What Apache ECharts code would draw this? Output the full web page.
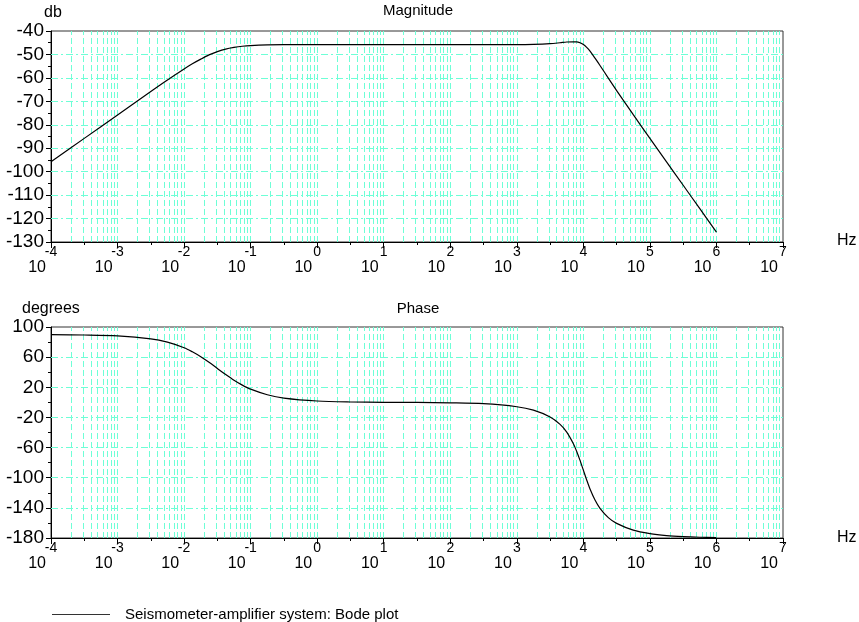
<!DOCTYPE html>
<html>
<head>
<meta charset="utf-8">
<script src="https://cdn.jsdelivr.net/npm/echarts@6/dist/echarts.min.js"></script>
<style>
html,body{margin:0;padding:0;background:#fff;}
#chart{width:859px;height:622px;}
</style>
</head>
<body>
<div id="chart"></div>
<script>
var freqHz = [1e-4, 3.16e-4, 1e-3, 3.16e-3, 5.62e-3, 1e-2, 1.33e-2, 1.78e-2, 2.37e-2, 3.16e-2,
    4.22e-2, 5.62e-2, 7.5e-2, 0.1, 0.178, 0.316, 1, 3.16, 10, 31.6,
    100, 316, 1000, 1778, 3162, 4467, 5623, 7079, 7943, 8913,
    1e4, 11220, 12589, 14962, 17783, 23714, 31623, 56234, 1e5, 177828,
    316228, 562341, 1e6];
var magnitudeDb = [-95.8, -85.8, -75.8, -65.8, -60.9, -56.2, -54.0, -52.0, -50.2, -48.8,
    -47.7, -47.0, -46.5, -46.2, -45.9, -45.8, -45.8, -45.8, -45.8, -45.8,
    -45.8, -45.8, -45.8, -45.7, -45.4, -45.0, -44.7, -44.6, -44.6, -45.0,
    -45.8, -47.0, -48.6, -51.6, -54.7, -60.1, -65.4, -75.7, -85.8, -95.8,
    -105.8, -115.8, -125.8];
var phaseDeg = [89.8, 89.4, 88.2, 84.3, 79.9, 72.5, 67.1, 60.6, 53.1, 45.0,
    36.9, 29.4, 22.9, 17.5, 10.1, 5.7, 1.8, 0.5, 0.1, -0.1,
    -0.6, -1.8, -5.8, -10.4, -19.4, -29.2, -39.4, -54.8, -65.1, -77.0,
    -90.0, -103.0, -114.9, -129.6, -140.6, -152.9, -160.6, -169.6, -174.2, -176.8,
    -178.2, -179.0, -179.4];

// tick labels
var decadeExp = [-4, -3, -2, -1, 0, 1, 2, 3, 4, 5, 6, 7];
var magTicks = [-130, -120, -110, -100, -90, -80, -70, -60, -50, -40];
var phaseTicks = [-180, -140, -100, -60, -20, 20, 60, 100];

var seriesName = 'Seismometer-amplifier system: Bode plot';
var gridColor = '#6effd6';
var font = 'Liberation Sans, Arial, sans-serif';

// x axis is drawn in decades (exponent of 10)
function toDecades(vals) {
    return freqHz.map(function (f, i) { return [Math.log10(f), vals[i]]; });
}

// cyan grid: every 1..9 x 10^n vertically, every labelled tick horizontally
function gridLines(yTicks) {
    var out = [];
    for (var n = decadeExp[0]; n < decadeExp[decadeExp.length - 1]; n++) {
        for (var k = 1; k <= 9; k++) {
            if (n === decadeExp[0] && k === 1) continue;
            out.push({xAxis: n + Math.log10(k), lineStyle: {type: [6, 3]}});
        }
    }
    for (var j = 1; j < yTicks.length - 1; j++) {
        out.push({yAxis: yTicks[j], lineStyle: {type: [7, 3, 2, 3]}});
    }
    return out;
}

function expAxis(g) {
    return {
        type: 'value', gridIndex: g, position: 'bottom',
        min: decadeExp[0], max: decadeExp[decadeExp.length - 1], interval: 1,
        axisLine: {show: true, onZero: false, lineStyle: {color: '#000', width: 1}},
        axisTick: {show: true, length: 6, lineStyle: {color: '#000'}},
        minorTick: {show: true, splitNumber: 2, length: 3, lineStyle: {color: '#000'}},
        splitLine: {show: false},
        axisLabel: {margin: 3, fontSize: 14, color: '#000', fontFamily: font,
            formatter: function (v) { return String(v); }}
    };
}
function baseAxis(g) {
    return {
        type: 'value', gridIndex: g, position: 'bottom',
        min: decadeExp[0], max: decadeExp[decadeExp.length - 1], interval: 1,
        axisLine: {show: false, onZero: false}, axisTick: {show: false}, splitLine: {show: false},
        axisLabel: {margin: 18, fontSize: 16, color: '#000', fontFamily: font, align: 'right',
            padding: [0, 5, 0, 0], formatter: function () { return '10'; }}
    };
}
function valAxis(g, ticks) {
    return {
        type: 'value', gridIndex: g,
        min: ticks[0], max: ticks[ticks.length - 1], interval: ticks[1] - ticks[0],
        axisLine: {show: true, onZero: false, lineStyle: {color: '#000', width: 1}},
        axisTick: {show: true, length: 5, lineStyle: {color: '#000'}},
        minorTick: {show: true, splitNumber: 2, length: 3, lineStyle: {color: '#000'}},
        splitLine: {show: false},
        axisLabel: {margin: 7, fontSize: 19, color: '#000', fontFamily: font}
    };
}
function gridSeries(g, ticks) {
    return {
        type: 'line', xAxisIndex: g * 2, yAxisIndex: g, data: [], z: 1, silent: true,
        markLine: {
            silent: true, symbol: ['none', 'none'], label: {show: false}, animation: false,
            lineStyle: {color: gridColor, width: 1, opacity: 1},
            emphasis: {disabled: true},
            data: gridLines(ticks)
        }
    };
}
function curve(g, vals) {
    return {
        name: seriesName, type: 'line', xAxisIndex: g * 2, yAxisIndex: g, z: 5,
        data: toDecades(vals), smooth: 0.3, symbol: 'none', animation: false,
        lineStyle: {color: '#000', width: 1.2}, itemStyle: {color: '#000'}
    };
}

function txt(x, y, s, align, size) {
    return {type: 'text', x: x, y: y,
        style: {text: s, font: (size || 16) + 'px ' + font, fill: '#000', align: align || 'left', verticalAlign: 'middle'}};
}

var myChart = echarts.init(document.getElementById('chart'), null, {renderer: 'canvas'});
var option = {
    animation: false,
    backgroundColor: '#fff',
    grid: [
        {left: 51, top: 31, width: 732, height: 211, show: true, borderColor: '#333', borderWidth: 1},
        {left: 51, top: 327, width: 732, height: 211, show: true, borderColor: '#333', borderWidth: 1}
    ],
    xAxis: [expAxis(0), baseAxis(0), expAxis(1), baseAxis(1)],
    yAxis: [valAxis(0, magTicks), valAxis(1, phaseTicks)],
    legend: {
        left: 47, top: 602, itemWidth: 58, itemHeight: 1, icon: 'rect',
        itemStyle: {color: '#333'},
        data: [seriesName],
        textStyle: {fontSize: 15, color: '#000', fontFamily: font, padding: [0, 0, 0, 10]}
    },
    graphic: [
        txt(44, 13, 'db'),
        txt(418, 11, 'Magnitude', 'center', 15),
        txt(837, 241, 'Hz'),
        txt(22, 309, 'degrees'),
        txt(418, 309, 'Phase', 'center', 15),
        txt(837, 538, 'Hz')
    ],
    series: [
        gridSeries(0, magTicks),
        gridSeries(1, phaseTicks),
        curve(0, magnitudeDb),
        curve(1, phaseDeg)
    ]
};
myChart.setOption(option);
</script>
</body>
</html>
